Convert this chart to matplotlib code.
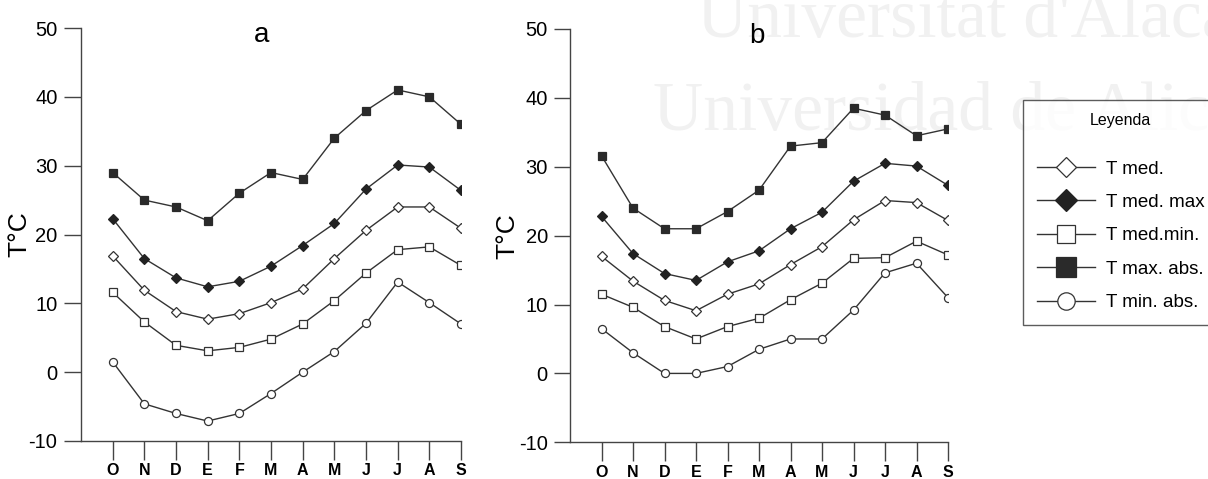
import matplotlib
matplotlib.use("Agg")
import matplotlib.pyplot as plt
from matplotlib.lines import Line2D

plt.rcParams['font.family'] = ['Liberation Sans', 'DejaVu Sans']

months = ["O", "N", "D", "E", "F", "M", "A", "M", "J", "J", "A", "S"]

# Panel a
a_tmaxabs = [29, 25, 24, 22, 26, 29, 28, 34, 38, 41, 40, 36]
a_tmedmax = [22.3, 16.5, 13.7, 12.4, 13.2, 15.4, 18.4, 21.6, 26.6, 30.1, 29.8, 26.4]
a_tmed = [16.9, 11.9, 8.8, 7.7, 8.5, 10.1, 12.1, 16.5, 20.6, 24.0, 24.0, 20.9]
a_tmedmin = [11.6, 7.3, 3.9, 3.1, 3.6, 4.8, 7.0, 10.4, 14.4, 17.8, 18.2, 15.5]
a_tminabs = [1.5, -4.6, -6.0, -7.1, -6.0, -3.1, 0.0, 3.0, 7.1, 13.1, 10.1, 7.0]

# Panel b
b_tmaxabs = [31.6, 24.0, 21.0, 21.0, 23.5, 26.6, 33.0, 33.5, 38.5, 37.5, 34.5, 35.5]
b_tmedmax = [22.8, 17.4, 14.5, 13.5, 16.2, 17.8, 21.0, 23.4, 27.9, 30.5, 30.1, 27.3]
b_tmed = [17.0, 13.4, 10.6, 9.1, 11.5, 13.0, 15.8, 18.4, 22.3, 25.1, 24.8, 22.2]
b_tmedmin = [11.5, 9.6, 6.8, 5.0, 6.8, 8.0, 10.7, 13.1, 16.7, 16.8, 19.2, 17.2]
b_tminabs = [6.5, 3.0, 0.0, 0.0, 1.0, 3.5, 5.0, 5.0, 9.2, 14.6, 16.0, 11.0]

labels = ["T med.", "T med. max", "T med.min.", "T max. abs.", "T min. abs."]
yticks = [-10, 0, 10, 20, 30, 40, 50]

LC = "#333333"
styles = {
    "T med.": dict(marker="D", mfc="white", mec=LC, ms=4.8, mew=0.9),
    "T med. max": dict(marker="D", mfc="#222222", mec="#222222", ms=4.8, mew=0.9),
    "T med.min.": dict(marker="s", mfc="white", mec=LC, ms=5.6, mew=0.9),
    "T max. abs.": dict(marker="s", mfc="#2a2a2a", mec="#2a2a2a", ms=6.0, mew=0.9),
    "T min. abs.": dict(marker="o", mfc="white", mec=LC, ms=5.8, mew=0.9),
}
legend_ms = {"T med.": 10.5, "T med. max": 11.5, "T med.min.": 13.5,
             "T max. abs.": 14.5, "T min. abs.": 12.5}

fig = plt.figure(figsize=(12.08, 4.79), dpi=100)

# watermark of the scanned source (behind everything)
wm_font = ['Liberation Serif', 'DejaVu Serif']
fig.text(697/1208, 1-37/479, "Universitat d'Alacant", family=wm_font,
         fontsize=50, color="#f1f1f1", ha="left", va="baseline", zorder=-5)
fig.text(653/1208, 1-130/479, "Universidad de Alicante", family=wm_font,
         fontsize=50, color="#f1f1f1", ha="left", va="baseline", zorder=-5)

axa = fig.add_axes([81/1208, 38/479, 380/1208, 413/479])
axb = fig.add_axes([570/1208, 36.7/479, 378/1208, 413.3/479])

x = list(range(len(months)))
panels = [
    (axa, "a", 0.476, -0.131, 12.5, [a_tmed, a_tmedmax, a_tmedmin, a_tmaxabs, a_tminabs]),
    (axb, "b", 0.495, -0.134, 11.5, [b_tmed, b_tmedmax, b_tmedmin, b_tmaxabs, b_tminabs]),
]
for ax, title, tx, lx, tl, series in panels:
    ax.patch.set_alpha(0)
    for lab, ys in zip(labels, series):
        ax.plot(x, ys, color=LC, lw=1.0, **styles[lab])
    ax.set_xlim(-1, 11)
    ax.set_ylim(-10, 50)
    ax.set_yticks(yticks)
    ax.set_yticklabels([str(t) for t in yticks], fontsize=14.5)
    ax.set_xticks(x)
    ax.set_xticklabels(months, fontsize=11.5, fontweight="bold")
    for s in ["top", "right"]:
        ax.spines[s].set_visible(False)
    for s in ["left", "bottom"]:
        ax.spines[s].set_color("#444444")
        ax.spines[s].set_linewidth(1.0)
    ax.tick_params(axis="y", length=tl, width=1, color="#444444", pad=4.5)
    ax.tick_params(axis="x", length=14, width=1, color="#444444", pad=2)
    ax.set_ylabel("T°C", fontsize=19)
    ax.yaxis.set_label_coords(lx, 0.5)
    ax.text(tx, 0.966, title, transform=ax.transAxes, ha="center", va="baseline", fontsize=20)

handles = []
for lab in labels:
    st = dict(styles[lab])
    st["ms"] = legend_ms[lab]
    handles.append(Line2D([0], [0], color=LC, lw=1.0, **st))

leg = fig.legend(handles, labels, loc="upper left",
                 bbox_to_anchor=(1023/1208, 1-100/479), bbox_transform=fig.transFigure,
                 title="Leyenda", title_fontsize=11.5, fontsize=13.5,
                 frameon=True, fancybox=False, edgecolor="#333333",
                 handlelength=3.1, handletextpad=0.6, labelspacing=0.87,
                 borderpad=0.72, borderaxespad=0)
leg.get_frame().set_linewidth(1.0)
leg._legend_box.sep = 23

fig.savefig("out.png", dpi=100)
